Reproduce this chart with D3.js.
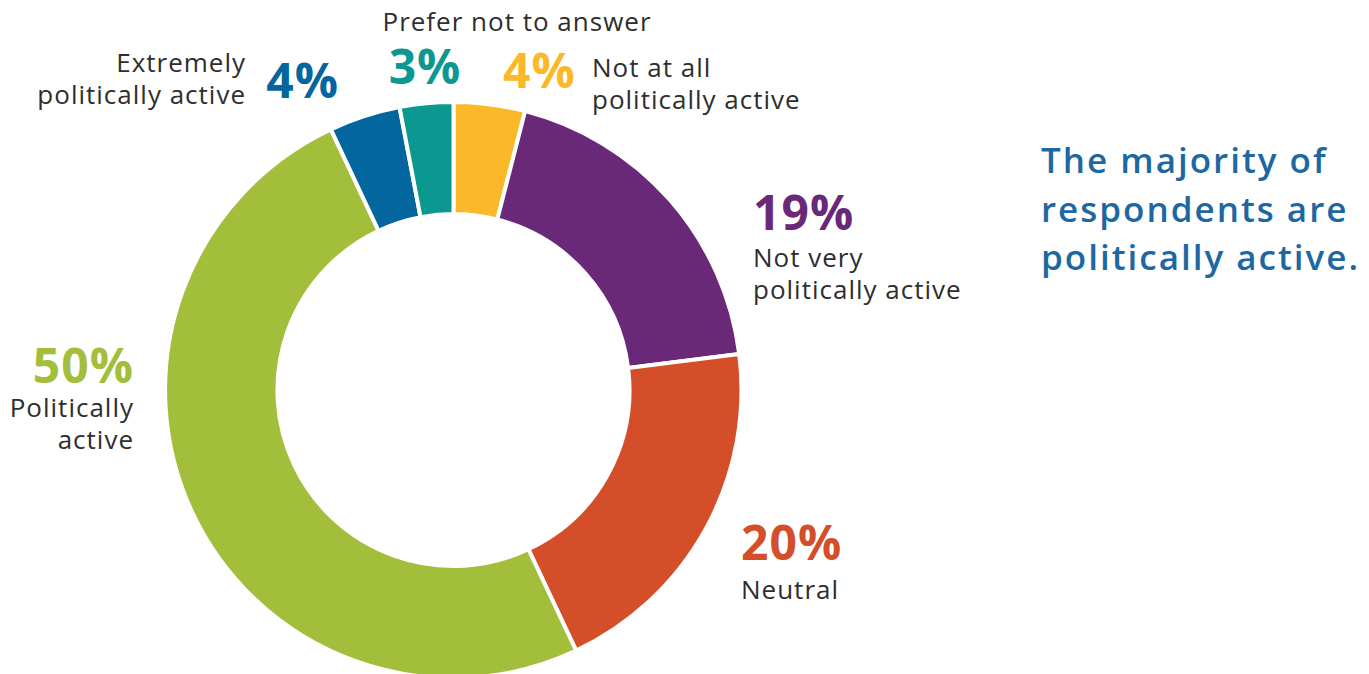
<!DOCTYPE html>
<html>
<head>
<meta charset="utf-8">
<script src="https://cdn.jsdelivr.net/npm/d3@7/dist/d3.min.js"></script>
<style>
  html, body { margin: 0; padding: 0; background: #ffffff; }
  svg { display: block; }
  .lbl { font-family: "Open Sans", sans-serif; fill: #2e2e2e; letter-spacing: 1px; }
  .pct { font-family: "Open Sans", sans-serif; font-weight: 700; letter-spacing: 1px; }
  .title { font-family: "Open Sans", sans-serif; font-weight: 600; fill: #1d68a2; letter-spacing: 2px; }
</style>
</head>
<body>
<svg id="chart" width="1369" height="674"></svg>
<script>
// Political activity of respondents, clockwise from 12 o'clock
const categories = [
  "Not at all politically active",
  "Not very politically active",
  "Neutral",
  "Politically active",
  "Extremely politically active",
  "Prefer not to answer"
];
const values = [4, 19, 20, 50, 4, 3];
const colors = ["#fbb829", "#6a2978", "#d44f29", "#a3be3b", "#03669e", "#0b9891"];
const labelLines = [
  ["Not at all", "politically active"],
  ["Not very", "politically active"],
  ["Neutral"],
  ["Politically", "active"],
  ["Extremely", "politically active"],
  ["Prefer not to answer"]
];
const titleLines = ["The majority of", "respondents are", "politically active."];

const svg = d3.select("#chart");
const cx = 453.5, cy = 390, rOuter = 288, rInner = 176;

const pie = d3.pie().sort(null).value(d => d);
const arc = d3.arc().innerRadius(rInner).outerRadius(rOuter);

const g = svg.append("g").attr("transform", `translate(${cx},${cy})`);
g.selectAll("path")
  .data(pie(values))
  .join("path")
  .attr("d", arc)
  .attr("fill", (d, i) => colors[i])
  .attr("stroke", "#ffffff")
  .attr("stroke-width", 4)
  .attr("stroke-linejoin", "miter");

// Label placement: percentage (x, baseline, anchor) and text lines
const layout = [
  { px: 503, py: 88, pa: "start", tx: 592, ty: [77, 109], ta: "start" },
  { px: 753, py: 230, pa: "start", tx: 753, ty: [267, 299], ta: "start" },
  { px: 741, py: 560, pa: "start", tx: 741, ty: [599], ta: "start" },
  { px: 134, py: 383, pa: "end", tx: 134, ty: [417, 449], ta: "end" },
  { px: 339, py: 98, pa: "end", tx: 246, ty: [72, 104], ta: "end" },
  { px: 425, py: 84, pa: "middle", tx: 517, ty: [31], ta: "middle" }
];

const pctSize = 48, lblSize = 26;
layout.forEach((L, i) => {
  svg.append("text")
    .attr("class", "pct")
    .attr("x", L.px).attr("y", L.py)
    .attr("text-anchor", L.pa)
    .attr("font-size", pctSize)
    .attr("fill", colors[i])
    .text(values[i] + "%");
  labelLines[i].forEach((line, j) => {
    svg.append("text")
      .attr("class", "lbl")
      .attr("x", L.tx).attr("y", L.ty[j])
      .attr("text-anchor", L.ta)
      .attr("font-size", lblSize)
      .text(line);
  });
});

titleLines.forEach((line, j) => {
  svg.append("text")
    .attr("class", "title")
    .attr("x", 1041).attr("y", 173 + j * 48.5)
    .attr("font-size", 35)
    .text(line);
});
</script>
</body>
</html>
